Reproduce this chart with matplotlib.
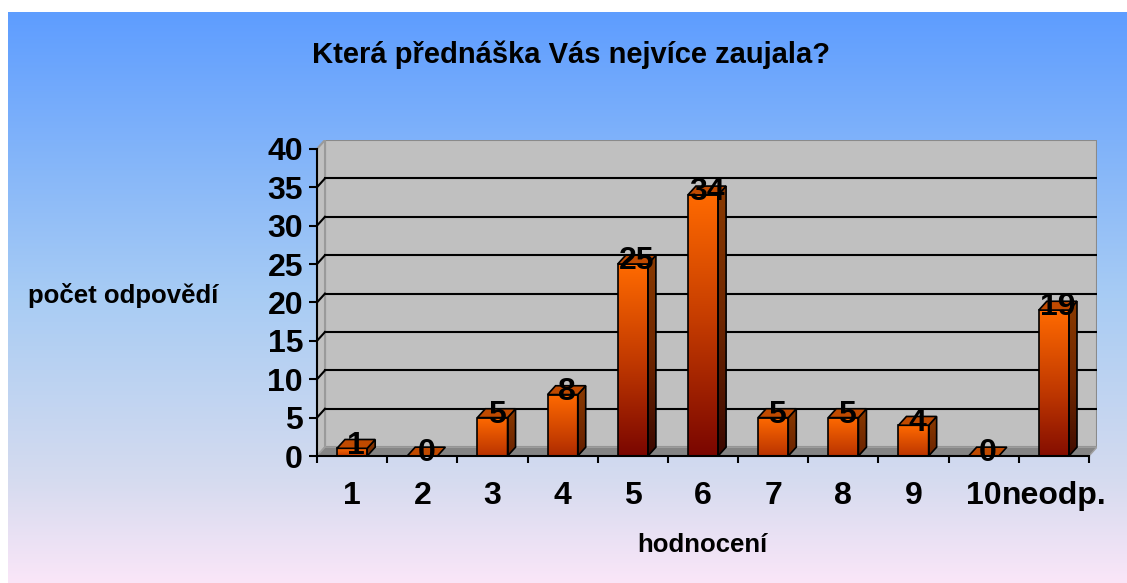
import numpy as np
import matplotlib as mpl
import matplotlib.pyplot as plt
from matplotlib.patches import Polygon

plt.rc('font', family=['Liberation Sans', 'DejaVu Sans'], weight='bold')

categories = ['1', '2', '3', '4', '5', '6', '7', '8', '9', '10', 'neodp.']
values = [1, 0, 5, 8, 25, 34, 5, 5, 4, 0, 19]
yticks = [0, 5, 10, 15, 20, 25, 30, 35, 40]
title = 'Která přednáška Vás nejvíce zaujala?'
ylabel = 'počet odpovědí'
xlabel = 'hodnocení'

W, H = 1127, 583
fig = plt.figure(figsize=(W / 100, H / 100), dpi=100)

# background gradient (white margin top/left)
bg = fig.add_axes([8 / W, 0, 1 - 8 / W, 1 - 12 / H], zorder=0)
bg_map = mpl.colors.LinearSegmentedColormap.from_list(
    'bg', [(0.0, '#5e9dff'), (0.5, '#a8ccf4'), (0.82, '#d5dbef'), (1.0, '#fae6f8')])
bg.imshow(np.linspace(0, 1, 256).reshape(-1, 1), cmap=bg_map, aspect='auto',
          extent=[0, 1, 0, 1], interpolation='bicubic')
bg.axis('off')

# main axes, pseudo 3D
n = len(categories)
dx, dy = 0.114, 1.15
ymax = yticks[-1]
ax = fig.add_axes([317 / W, 127 / H, 780 / W, 316 / H], zorder=1)
ax.patch.set_alpha(0)
ax.set_xlim(-0.5, n - 0.5 + dx)
ax.set_ylim(0, ymax + dy)

x0, x1 = -0.5, n - 0.5
ax.add_patch(Polygon([(x0 + dx, dy), (x1 + dx, dy), (x1 + dx, ymax + dy), (x0 + dx, ymax + dy)],
                     closed=True, fc='#c0c0c0', ec='#8a8a8a', lw=1.5, zorder=1))
ax.add_patch(Polygon([(x0, 0), (x0 + dx, dy), (x0 + dx, ymax + dy), (x0, ymax)],
                     closed=True, fc='#c0c0c0', ec='#9a9a9a', lw=1.5, zorder=1))
ax.add_patch(Polygon([(x0, 0), (x1, 0), (x1 + dx, dy), (x0 + dx, dy)],
                     closed=True, fc='#858585', ec='#a0a0a0', lw=1, zorder=1))
for t in yticks[1:-1]:
    ax.plot([x0 + dx, x1 + dx], [t + dy, t + dy], color='black', lw=1.5, zorder=2)
    ax.plot([x0, x0 + dx], [t, t + dy], color='black', lw=1.5, zorder=2)

front_map = mpl.colors.LinearSegmentedColormap.from_list('front', ['#7a0600', '#c23a00', '#ff6a00'])
side_map = mpl.colors.LinearSegmentedColormap.from_list('side', ['#3a0800', '#6e2600', '#8a3a00'])
bw = 0.43
grad = np.linspace(0, 1, 128).reshape(-1, 1)
for i, v in enumerate(values):
    l, r = i - bw / 2, i + bw / 2
    if v > 0:
        lo = max(0.0, 0.55 - v / 40) if v < 22 else 0.0
        g = lo + (1 - lo) * grad[::-1]
        ax.imshow(g, cmap=front_map, vmin=0, vmax=1, aspect='auto',
                  extent=[l, r, 0, v], interpolation='bicubic', zorder=3)
        ax.add_patch(Polygon([(l, 0), (r, 0), (r, v), (l, v)], closed=True,
                             fill=False, ec='black', lw=1.2, zorder=4))
        side = Polygon([(r, 0), (r + dx, dy), (r + dx, v + dy), (r, v)], closed=True,
                       fill=False, ec='black', lw=1.2, zorder=4)
        ax.add_patch(side)
        im = ax.imshow(g, cmap=side_map, vmin=0, vmax=1, aspect='auto',
                       extent=[r, r + dx, 0, v + dy], interpolation='bicubic', zorder=3)
        im.set_clip_path(side)
    ax.add_patch(Polygon([(l, v), (r, v), (r + dx, v + dy), (l + dx, v + dy)], closed=True,
                         fc='#c04a00', ec='black', lw=1.2, zorder=4))
    ax.text(i + dx / 2, v + 0.35, str(v), ha='center', va='center',
            fontsize=23, fontweight='bold', zorder=5)

for s in ['top', 'right']:
    ax.spines[s].set_visible(False)
ax.spines['left'].set_bounds(0, ymax)
ax.spines['bottom'].set_bounds(x0, x1)
for s in ['left', 'bottom']:
    ax.spines[s].set_linewidth(1.5)
    ax.spines[s].set_zorder(6)

ax.set_yticks(yticks)
ax.set_yticklabels([str(t) for t in yticks], fontsize=23, fontweight='bold')
ax.tick_params(axis='y', direction='out', length=6, width=1.5, pad=4)
ax.set_xticks(np.arange(n + 1) - 0.5)
ax.set_xticklabels([])
ax.set_xticks(np.arange(n), minor=True)
ax.set_xticklabels(categories, minor=True, fontsize=23, fontweight='bold')
ax.tick_params(axis='x', which='major', direction='out', length=5, width=1.5)
ax.tick_params(axis='x', which='minor', length=0, pad=18)

fig.text(571 / W, 1 - 55 / H, title, ha='center', va='center', fontsize=21, fontweight='bold')
fig.text(123 / W, 1 - 296 / H, ylabel, ha='center', va='center', fontsize=18.5, fontweight='bold')
fig.text(702 / W, 1 - 545 / H, xlabel, ha='center', va='center', fontsize=18.5, fontweight='bold')

fig.savefig('out.png', dpi=100)
